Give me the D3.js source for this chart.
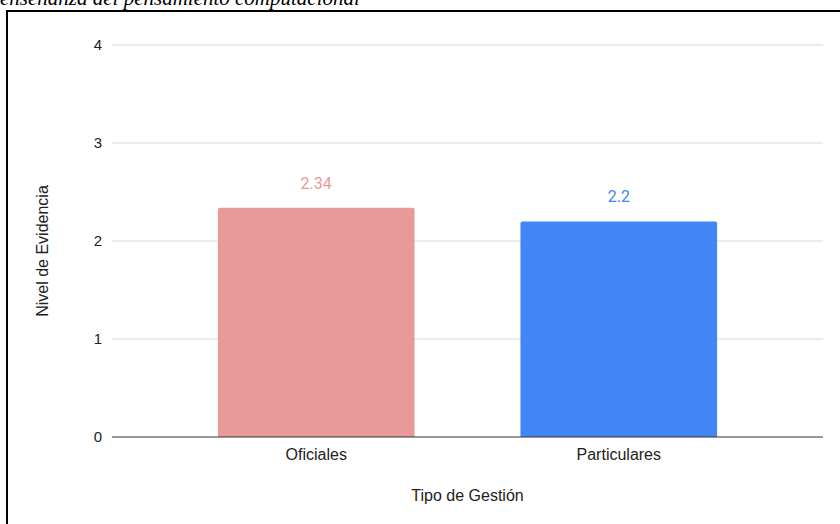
<!DOCTYPE html>
<html>
<head>
<meta charset="utf-8">
<script src="https://cdn.jsdelivr.net/npm/d3@7"></script>
<style>
    body { margin: 0; background: #fff; }
    svg { display: block; }
</style>
</head>
<body>
<div id="container"></div>
<script>
// chart data
var categories = ["Oficiales", "Particulares"];
var values = [2.34, 2.2];
var barColors = ["#ea9999", "#4285f4"];
var yTicks = [0, 1, 2, 3, 4];

var caption = "enseñanza del pensamiento computacional";
var yTitle = "Nivel de Evidencia";
var xTitle = "Tipo de Gestión";

var width = 840, height = 524;
var margin = { top: 45, right: 17, bottom: 87, left: 112 };

var svg = d3.select("#container").append("svg")
    .attr("width", width)
    .attr("height", height);

// caption line, cut by the top edge as in the source page
svg.append("text")
    .attr("x", 0)
    .attr("y", 5)
    .style("font-family", "'Liberation Serif', 'Times New Roman', serif")
    .style("font-style", "italic")
    .style("font-size", "21px")
    .style("fill", "#000")
    .text(caption);

// frame
svg.append("rect")
    .attr("x", 7)
    .attr("y", 11)
    .attr("width", 900)
    .attr("height", 600)
    .attr("fill", "none")
    .attr("stroke", "#000")
    .attr("stroke-width", 2);

var x = d3.scaleBand()
    .domain(categories)
    .range([margin.left, width - margin.right])
    .paddingInner(0.35)
    .paddingOuter(0.35);

var y = d3.scaleLinear()
    .domain([0, 4])
    .range([height - margin.bottom, margin.top]);

// grid lines
svg.append("g")
    .selectAll("line")
    .data(yTicks.filter(function (d) { return d > 0; }))
    .enter().append("line")
    .attr("x1", margin.left)
    .attr("x2", width - margin.right)
    .attr("y1", function (d) { return y(d); })
    .attr("y2", function (d) { return y(d); })
    .attr("stroke", "#d9d9d9")
    .attr("stroke-width", 1);

// y axis tick labels
var yAxis = svg.append("g")
    .attr("transform", "translate(" + margin.left + ",0)")
    .call(d3.axisLeft(y).tickValues(yTicks).tickFormat(d3.format("d")).tickSize(0).tickPadding(10));
yAxis.select(".domain").remove();
yAxis.selectAll("text")
    .style("font-family", "Arial, 'Liberation Sans', sans-serif")
    .style("font-size", "15px")
    .style("fill", "#222");

// bars
svg.append("g")
    .selectAll("path")
    .data(values)
    .enter().append("path")
    .attr("d", function (d, i) {
        var x0 = x(categories[i]), w = x.bandwidth();
        var y0 = y(d), y1 = y(0), r = 2;
        return "M" + x0 + "," + y1 +
            "V" + (y0 + r) +
            "Q" + x0 + "," + y0 + " " + (x0 + r) + "," + y0 +
            "H" + (x0 + w - r) +
            "Q" + (x0 + w) + "," + y0 + " " + (x0 + w) + "," + (y0 + r) +
            "V" + y1 + "Z";
    })
    .attr("fill", function (d, i) { return barColors[i]; });

// value labels
svg.append("g")
    .selectAll("text")
    .data(values)
    .enter().append("text")
    .attr("x", function (d, i) { return x(categories[i]) + x.bandwidth() / 2; })
    .attr("y", function (d) { return y(d) - 19; })
    .attr("text-anchor", "middle")
    .style("font-family", "Roboto, Arial, sans-serif")
    .style("font-size", "16px")
    .style("fill", function (d, i) { return barColors[i]; })
    .text(function (d) { return d; });

// baseline
svg.append("line")
    .attr("x1", margin.left)
    .attr("x2", width - margin.right)
    .attr("y1", y(0))
    .attr("y2", y(0))
    .attr("stroke", "#333")
    .attr("stroke-width", 1);

// x axis labels
var xAxis = svg.append("g")
    .attr("transform", "translate(0," + y(0) + ")")
    .call(d3.axisBottom(x).tickSize(0).tickPadding(12));
xAxis.select(".domain").remove();
xAxis.selectAll("text")
    .style("font-family", "Arial, 'Liberation Sans', sans-serif")
    .style("font-size", "16px")
    .style("fill", "#222");

// axis titles
svg.append("text")
    .attr("transform", "translate(48," + ((margin.top + height - margin.bottom) / 2 + 10) + ") rotate(-90)")
    .attr("text-anchor", "middle")
    .style("font-family", "Arial, 'Liberation Sans', sans-serif")
    .style("font-size", "16px")
    .style("fill", "#222")
    .text(yTitle);

svg.append("text")
    .attr("x", (margin.left + width - margin.right) / 2)
    .attr("y", 501)
    .attr("text-anchor", "middle")
    .style("font-family", "Arial, 'Liberation Sans', sans-serif")
    .style("font-size", "16px")
    .style("fill", "#222")
    .text(xTitle);
</script>
</body>
</html>
